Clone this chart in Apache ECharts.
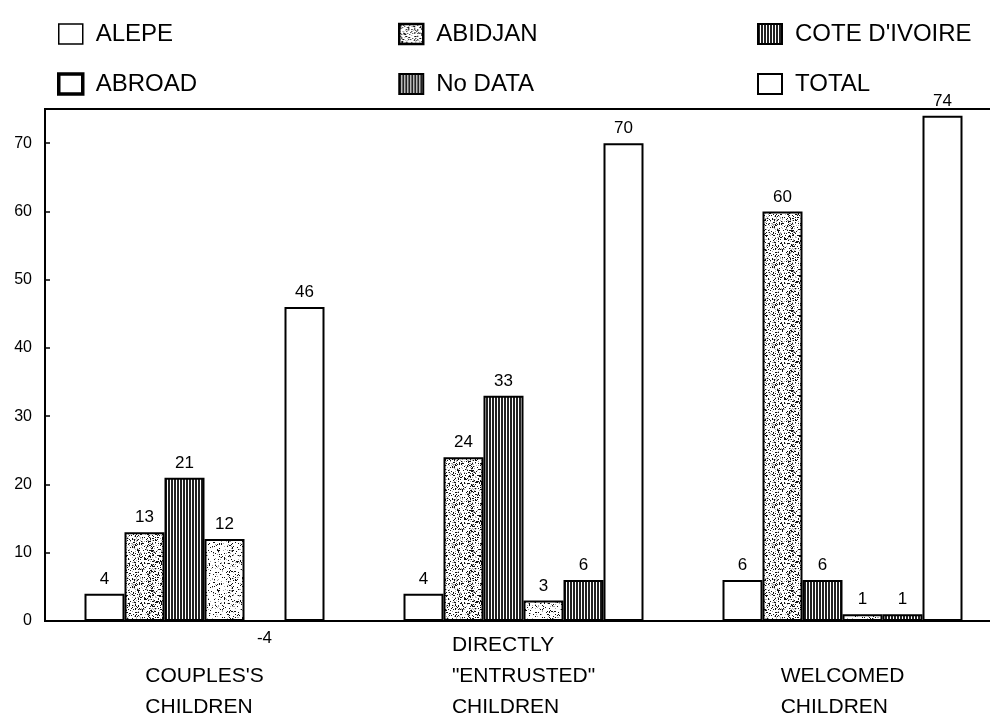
<!DOCTYPE html>
<html><head><meta charset="utf-8">
<script src="https://cdn.jsdelivr.net/npm/echarts@6/dist/echarts.min.js"></script>
<style>html,body{margin:0;padding:0;background:#fff}#c{width:990px;height:713px}</style>
</head><body><div id="c"></div>
<script>
// ---- data ----
const categories = ["COUPLES'S\nCHILDREN", 'DIRECTLY\n"ENTRUSTED"\nCHILDREN', "WELCOMED\nCHILDREN"];
const seriesNames = ["ALEPE", "ABIDJAN", "COTE D'IVOIRE", "ABROAD", "No DATA", "TOTAL"];
const alepe = [4, 4, 6];
const abidjan = [13, 24, 60];
const coteIvoire = [21, 33, 6];
const abroad = [12, 3, 1];
const noData = [-4, 6, 1];
const total = [46, 70, 74];
const yMin = 0, yMax = 75, yStep = 10;

// ---- textures ----
function hash(x, y) {
  let h = (x * 374761393 + y * 668265263) | 0;
  h = (h ^ (h >>> 13)) * 1274126177 | 0;
  return ((h ^ (h >>> 16)) >>> 0) % 1000;
}
function stipple(density) {
  const c = document.createElement('canvas'); c.width = 40; c.height = 40;
  const g = c.getContext('2d'); g.fillStyle = '#fff'; g.fillRect(0, 0, 40, 40);
  for (let x = 0; x < 40; x++) for (let y = 0; y < 40; y++) {
    const v = hash(x, y);
    if (v < density) { g.fillStyle = '#111'; g.fillRect(x, y, 1, 1); }
    else if (v < density * 1.6) { g.fillStyle = '#aaa'; g.fillRect(x, y, 1, 1); }
  }
  return { image: c, repeat: 'repeat' };
}
function stripes() {
  const c = document.createElement('canvas'); c.width = 3; c.height = 4;
  const g = c.getContext('2d'); g.fillStyle = '#fff'; g.fillRect(0, 0, 3, 4);
  g.fillStyle = '#222'; g.fillRect(0, 0, 2, 4);
  return { image: c, repeat: 'repeat' };
}
const fills = ['#ffffff', stipple(200), stripes(), stipple(110), stripes(), '#ffffff'];
const values = [alepe, abidjan, coteIvoire, abroad, noData, total];
const FONT = '"Liberation Sans", Arial, Helvetica, sans-serif';

const chart = echarts.init(document.getElementById('c'), null, { renderer: 'canvas' });

const series = seriesNames.map((name, i) => ({
  name, type: 'bar', barWidth: 40, barGap: '0%', clip: false,
  data: values[i].map(v => v < 0
    ? { value: v, itemStyle: { color: 'transparent', borderWidth: 0 },
        label: { position: 'inside', offset: [0, 4] } }
    : v),
  itemStyle: { color: fills[i], borderColor: '#000', borderWidth: 2 },
  label: { show: true, position: 'top', distance: 6, color: '#000', fontFamily: FONT, fontSize: 17 },
  emphasis: { disabled: true }, animation: false
}));

const legendIcon = [
  { color: '#fff', borderColor: '#000', borderWidth: 1.5 },
  { color: fills[1], borderColor: '#000', borderWidth: 2.5 },
  { color: fills[2], borderColor: '#000', borderWidth: 2 },
  { color: '#fff', borderColor: '#000', borderWidth: 3.5 },
  { color: fills[4], borderColor: '#000', borderWidth: 2 },
  { color: '#fff', borderColor: '#000', borderWidth: 2 }
];
const legendCols = [[0, 3], [1, 4], [2, 5]];
const legendLeft = [52, 393, 752];
const legends = legendCols.map((idx, k) => ({
  orient: 'vertical', left: legendLeft[k], top: 17, itemGap: 26,
  itemWidth: 24, itemHeight: 20, icon: 'rect', selectedMode: false,
  textStyle: { fontFamily: FONT, fontSize: 24, color: '#000', padding: [0, 0, 0, 8] },
  data: idx.map(i => ({ name: seriesNames[i], itemStyle: legendIcon[i] }))
}));

chart.setOption({
  animation: false,
  backgroundColor: '#fff',
  legend: legends,
  grid: { left: 45, right: -12, top: 109, bottom: 92, show: true, borderColor: '#000', borderWidth: 2,
          containLabel: false, outerBoundsMode: 'none' },
  xAxis: {
    type: 'category', data: categories,
    axisLine: { show: true, lineStyle: { color: '#000', width: 2 } },
    axisTick: { show: false },
    axisLabel: {
      margin: 9, interval: 0, color: '#000',
      formatter: v => {
        const lines = v.split('\n');
        while (lines.length < 3) lines.unshift(' ');
        return lines.map(l => '{a|' + l + '}').join('\n');
      },
      rich: { a: { align: 'left', fontFamily: FONT, fontSize: 21, lineHeight: 31, color: '#000' } }
    }
  },
  yAxis: {
    type: 'value', min: yMin, max: yMax, interval: yStep,
    axisLine: { show: true, lineStyle: { color: '#000', width: 2 } },
    axisTick: { show: true, inside: true, length: 5, lineStyle: { color: '#000', width: 1.5 } },
    splitLine: { show: false },
    axisLabel: { showMaxLabel: false, margin: 13, color: '#000', fontFamily: FONT, fontSize: 16 }
  },
  series
});
</script></body></html>
